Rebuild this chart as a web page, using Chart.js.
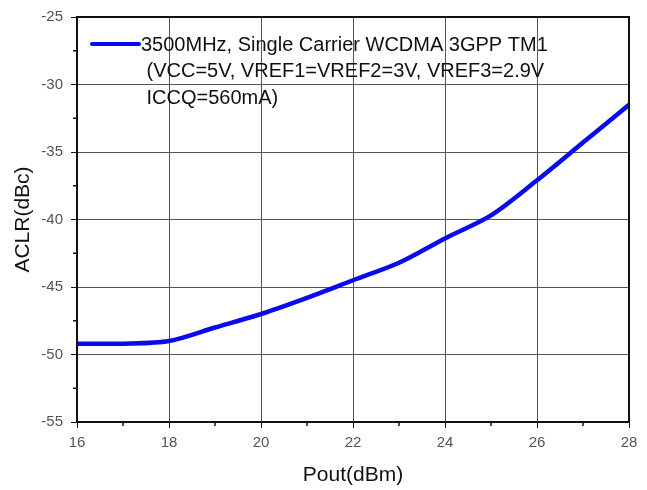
<!DOCTYPE html>
<html>
<head>
<meta charset="utf-8">
<script src="https://cdn.jsdelivr.net/npm/chart.js@4"></script>
<style>
  html, body { margin: 0; padding: 0; background: #fff; }
  #wrap { width: 647px; height: 490px; position: relative; }
</style>
</head>
<body>
<div id="wrap"><canvas id="chart" width="647" height="490"></canvas></div>
<script>
// Data
const poutDbm = [16, 17, 18, 19, 20, 21, 22, 23, 24, 25, 26, 27, 28];
const aclrDbc = [-49.2, -49.2, -49.0, -48.0, -47.0, -45.8, -44.5, -43.2, -41.4, -39.7, -37.1, -34.3, -31.5];
const legendLines = [
  "3500MHz, Single Carrier WCDMA 3GPP TM1",
  " (VCC=5V, VREF1=VREF2=3V, VREF3=2.9V",
  " ICCQ=560mA)",
];
const xTicks = [16, 18, 20, 22, 24, 26, 28];
const yTicks = [-55, -50, -45, -40, -35, -30, -25];

const FONT = "Liberation Sans, Arial, sans-serif";

// Frame, minor ticks and multi-line legend
const framePlugin = {
  id: "frame",
  afterDraw(chart) {
    const { ctx, chartArea: a, scales } = chart;
    ctx.save();
    ctx.strokeStyle = "#111";
    ctx.lineWidth = 2;
    ctx.strokeRect(a.left, a.top, a.right - a.left, a.bottom - a.top);

    // minor ticks
    ctx.lineWidth = 1.5;
    ctx.beginPath();
    for (let v = 17; v < 28; v += 2) {
      const x = scales.x.getPixelForValue(v);
      ctx.moveTo(x, a.bottom);
      ctx.lineTo(x, a.bottom + 4);
    }
    for (let v = -52.5; v < -25; v += 5) {
      const y = scales.y.getPixelForValue(v);
      ctx.moveTo(a.left, y);
      ctx.lineTo(a.left - 4, y);
    }
    ctx.stroke();

    // legend
    const ds = chart.data.datasets[0];
    ctx.strokeStyle = ds.borderColor;
    ctx.lineWidth = 4;
    ctx.lineCap = "round";
    ctx.beginPath();
    ctx.moveTo(92, 44);
    ctx.lineTo(139, 44);
    ctx.stroke();
    ctx.fillStyle = "#111";
    ctx.font = "20px " + FONT;
    ctx.textBaseline = "middle";
    legendLines.forEach((t, i) => {
      ctx.fillText(t, 141, 45 + i * 26.5);
    });
    ctx.restore();
  },
};

new Chart(document.getElementById("chart"), {
  type: "line",
  data: {
    labels: poutDbm,
    datasets: [
      {
        label: legendLines.join(" "),
        data: poutDbm.map((x, i) => ({ x, y: aclrDbc[i] })),
        borderColor: "#0a0af0",
        borderWidth: 4.5,
        pointRadius: 0,
        tension: 0.3,
        fill: false,
      },
    ],
  },
  options: {
    responsive: false,
    animation: false,
    layout: { padding: { top: 11, right: 18, left: 0, bottom: 0 } },
    plugins: {
      legend: { display: false },
      tooltip: { enabled: false },
    },
    scales: {
      x: {
        type: "linear",
        min: 16,
        max: 28,
        afterBuildTicks: (s) => { s.ticks = xTicks.map((v) => ({ value: v })); },
        afterFit: (s) => { s.height = 68; },
        ticks: {
          color: "#555",
          font: { size: 15, family: FONT },
          padding: 6,
          maxRotation: 0,
        },
        grid: { color: "#555", lineWidth: 1, tickLength: 6, tickColor: "#111" },
        border: { display: false },
        title: {
          display: true,
          text: "Pout(dBm)",
          color: "#111",
          font: { size: 21, family: FONT },
          padding: { top: 4, bottom: 2 },
        },
      },
      y: {
        min: -55,
        max: -25,
        afterBuildTicks: (s) => { s.ticks = yTicks.map((v) => ({ value: v })); },
        afterFit: (s) => { s.width = 77; },
        ticks: {
          color: "#555",
          font: { size: 15, family: FONT },
          padding: 8,
        },
        grid: { color: "#555", lineWidth: 1, tickLength: 6, tickColor: "#111" },
        border: { display: false },
        title: {
          display: true,
          text: "ACLR(dBc)",
          color: "#111",
          font: { size: 21, family: FONT },
          padding: { top: 11, bottom: 0 },
        },
      },
    },
  },
  plugins: [framePlugin],
});
</script>
</body>
</html>
